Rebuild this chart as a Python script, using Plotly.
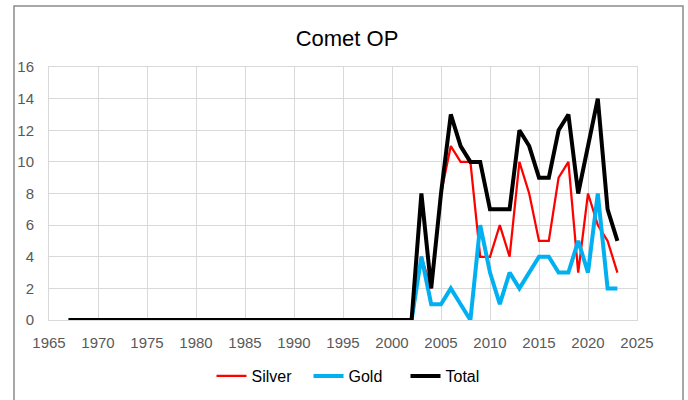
import plotly.graph_objects as go

years = [1967, 1968, 1969, 1970, 1971, 1972, 1973, 1974, 1975, 1976, 1977, 1978,
         1979, 1980, 1981, 1982, 1983, 1984, 1985, 1986, 1987, 1988, 1989, 1990,
         1991, 1992, 1993, 1994, 1995, 1996, 1997, 1998, 1999, 2000, 2001, 2002,
         2003, 2004, 2005, 2006, 2007, 2008, 2009, 2010, 2011, 2012, 2013, 2014,
         2015, 2016, 2017, 2018, 2019, 2020, 2021, 2022, 2023]

silver = [0, 0, 0, 0, 0, 0, 0, 0, 0, 0, 0, 0,
          0, 0, 0, 0, 0, 0, 0, 0, 0, 0, 0, 0,
          0, 0, 0, 0, 0, 0, 0, 0, 0, 0, 0, 0,
          4, 2, 8, 11, 10, 10, 4, 4, 6, 4, 10, 8,
          5, 5, 9, 10, 3, 8, 6, 5, 3]

gold = [0, 0, 0, 0, 0, 0, 0, 0, 0, 0, 0, 0,
        0, 0, 0, 0, 0, 0, 0, 0, 0, 0, 0, 0,
        0, 0, 0, 0, 0, 0, 0, 0, 0, 0, 0, 0,
        4, 1, 1, 2, 1, 0, 6, 3, 1, 3, 2, 3,
        4, 4, 3, 3, 5, 3, 8, 2, 2]

total = [0, 0, 0, 0, 0, 0, 0, 0, 0, 0, 0, 0,
         0, 0, 0, 0, 0, 0, 0, 0, 0, 0, 0, 0,
         0, 0, 0, 0, 0, 0, 0, 0, 0, 0, 0, 0,
         8, 2, 8, 13, 11, 10, 10, 7, 7, 7, 12, 11,
         9, 9, 12, 13, 8, 11, 14, 7, 5]

FONT = "Liberation Sans, Arial, sans-serif"
GRID = "#D9D9D9"

fig = go.Figure()
fig.add_trace(go.Scatter(x=years, y=silver, mode="lines", name="Silver",
                         line=dict(color="#FF0000", width=2.25)))
fig.add_trace(go.Scatter(x=years, y=gold, mode="lines", name="Gold",
                         line=dict(color="#00B0F0", width=4)))
fig.add_trace(go.Scatter(x=years, y=total, mode="lines", name="Total",
                         line=dict(color="#000000", width=4)))

fig.update_layout(
    width=688, height=400,
    margin=dict(l=49, r=51, t=67, b=80, autoexpand=False),
    paper_bgcolor="white", plot_bgcolor="white",
    font=dict(family=FONT, color="#595959"),
    title=dict(text="Comet OP", x=(347 - 49) / 588, xref="paper", xanchor="center",
               y=1 - 38 / 400, yanchor="middle",
               font=dict(family=FONT, size=22, color="#000000")),
    showlegend=True,
    legend=dict(orientation="h", xref="container", yref="container",
                x=357 / 688, xanchor="center",
                y=1 - 376 / 400, yanchor="middle",
                font=dict(family=FONT, size=16, color="#000000"),
                bgcolor="rgba(0,0,0,0)", entrywidth=52, entrywidthmode="pixels"),
    xaxis=dict(range=[1965, 2025], dtick=5, tick0=1965, showgrid=True,
               gridcolor=GRID, gridwidth=1, showline=True, linecolor=GRID,
               mirror=True, zeroline=False, ticks="", ticklabelstandoff=9,
               automargin=False,
               tickfont=dict(family=FONT, size=15, color="#595959")),
    yaxis=dict(range=[0, 16], dtick=2, tick0=0, showgrid=True,
               gridcolor=GRID, gridwidth=1, showline=True, linecolor=GRID,
               mirror=True, zeroline=False, ticks="", ticklabelstandoff=11,
               automargin=False,
               tickfont=dict(family=FONT, size=15, color="#595959")),
    shapes=[dict(type="rect", xref="paper", yref="paper",
                 x0=(14 - 49) / 588, x1=(683 - 49) / 588,
                 y0=(320 - 420) / 253, y1=(320 - 6) / 253,
                 line=dict(color="#8C8C8C", width=1.5), fillcolor="rgba(0,0,0,0)",
                 layer="below")],
)

fig.write_html("out.html", config={"displayModeBar": False},
               post_script="document.body.style.margin='0';document.body.style.padding='0';")
